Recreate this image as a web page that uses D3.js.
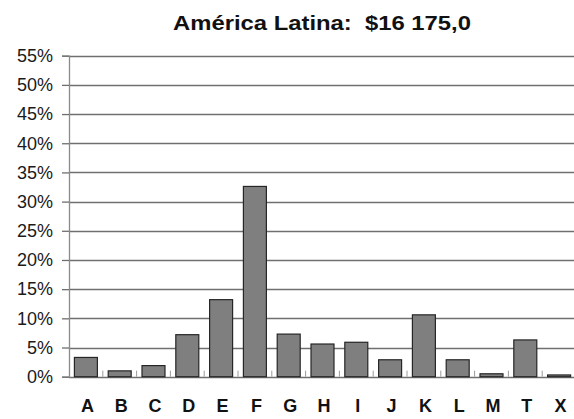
<!DOCTYPE html>
<html>
<head>
<meta charset="utf-8">
<script src="https://cdn.jsdelivr.net/npm/d3@7"></script>
<style>
  html, body { margin: 0; padding: 0; background: #fff; }
  svg { display: block; }
</style>
</head>
<body>
<svg id="chart" width="574" height="419"></svg>
<script>
// Share of total by category (percent)
const titleText = "América Latina:  $16 175,0";
const categories = ["A", "B", "C", "D", "E", "F", "G", "H", "I", "J", "K", "L", "M", "T", "X"];
const shares = [3.3, 1.0, 1.9, 7.2, 13.2, 32.6, 7.3, 5.6, 5.9, 2.9, 10.6, 2.9, 0.5, 6.3, 0.3];
const yTicks = [0, 5, 10, 15, 20, 25, 30, 35, 40, 45, 50, 55];

const data = categories.map((c, i) => ({ cat: c, value: shares[i] }));

const svg = d3.select("#chart");
const W = 574, H = 419;
const plotLeft = 69, plotRight = 576, plotTop = 55.7, plotBottom = 376.7;

const x = d3.scaleBand()
  .domain(categories)
  .range([plotLeft, plotRight])
  .paddingInner(0.32)
  .paddingOuter(0.16);

const y = d3.scaleLinear()
  .domain([0, 55])
  .range([plotBottom, plotTop]);

// Title
svg.append("text")
  .attr("x", 173)
  .attr("y", 29.5)
  .attr("font-family", "Liberation Sans, Arial, sans-serif")
  .attr("font-weight", "bold")
  .attr("font-size", 20)
  .attr("fill", "#111")
  .attr("textLength", 298)
  .attr("lengthAdjust", "spacingAndGlyphs")
  .style("white-space", "pre")
  .text(titleText);

// Horizontal gridlines
svg.append("g")
  .selectAll("line")
  .data(yTicks)
  .join("line")
  .attr("x1", plotLeft)
  .attr("x2", W)
  .attr("y1", d => Math.round(y(d)) + 0.5)
  .attr("y2", d => Math.round(y(d)) + 0.5)
  .attr("stroke", "#6f6f6f")
  .attr("stroke-width", 1.3);

// Y axis with outward ticks and percent labels
const yAxis = d3.axisLeft(y)
  .tickValues(yTicks)
  .tickSize(7)
  .tickPadding(9)
  .tickFormat(d => d + "%");

const gy = svg.append("g")
  .attr("transform", `translate(${plotLeft},0)`)
  .call(yAxis);
gy.select(".domain").attr("stroke", "#8a8a8a").attr("stroke-width", 1.3);
gy.selectAll(".tick line").attr("stroke", "#6f6f6f").attr("stroke-width", 1.3);
gy.selectAll(".tick text")
  .attr("font-family", "Liberation Sans, Arial, sans-serif")
  .attr("font-size", 18)
  .attr("fill", "#1a1a1a");

// Small category separator ticks along the baseline
const boundaries = categories.slice(1).map(c => x(c) - x.step() * x.paddingInner() / 2);
svg.append("g")
  .selectAll("line")
  .data(boundaries)
  .join("line")
  .attr("x1", d => d)
  .attr("x2", d => d)
  .attr("y1", y(0))
  .attr("y2", y(0) - 6)
  .attr("stroke", "#9a9a9a")
  .attr("stroke-width", 1);

// Bars
svg.append("g")
  .selectAll("rect")
  .data(data)
  .join("rect")
  .attr("x", d => x(d.cat))
  .attr("width", x.bandwidth())
  .attr("y", d => y(d.value))
  .attr("height", d => y(0) - y(d.value))
  .attr("fill", "#7f7f7f")
  .attr("stroke", "#262626")
  .attr("stroke-width", 1.2);

// Category labels
svg.append("g")
  .selectAll("text")
  .data(categories)
  .join("text")
  .attr("x", d => x(d) + x.bandwidth() / 2 + 1.5)
  .attr("y", 411.5)
  .attr("text-anchor", "middle")
  .attr("font-family", "Liberation Sans, Arial, sans-serif")
  .attr("font-weight", "bold")
  .attr("font-size", 18)
  .attr("fill", "#111")
  .text(d => d);
</script>
</body>
</html>
